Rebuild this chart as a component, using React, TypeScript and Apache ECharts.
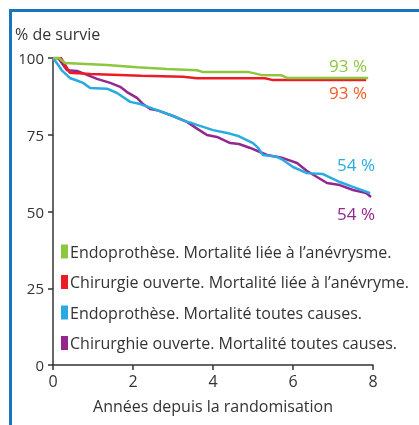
import React, { useEffect, useRef } from "react";
import * as echarts from "echarts";

const seriesNames = [
  "Endoprothèse. Mortalité liée à l’anévrysme.",
  "Chirurgie ouverte. Mortalité liée à l’anévryme.",
  "Endoprothèse. Mortalité toutes causes.",
  "Chirurghie ouverte. Mortalité toutes causes.",
];
const seriesColors = ["#8dc63f", "#ed1c24", "#29abe2", "#92278f"];
const labelColors = ["#8dc63f", "#f15a24", "#29abe2", "#92278f"];
const endLabels = ["93 %", "93 %", "54 %", "54 %"];

const endoAneurysm: [number, number][] = [
  [0, 100], [0.15, 100], [0.3, 98.4], [1.35, 97.7], [2.1, 97], [2.85, 96.4],
  [3.6, 96], [3.75, 95.4], [4.9, 95.4], [5.2, 94.5], [5.7, 94.4], [5.85, 93.5], [7.88, 93.5],
];
const openAneurysm: [number, number][] = [
  [0, 100], [0.2, 100], [0.42, 95.2], [0.93, 94.8], [2.2, 94.2], [3.25, 93.9],
  [3.6, 93.4], [5.3, 93.4], [5.5, 92.8], [7.83, 92.8],
];
const endoAll: [number, number][] = [
  [0, 100], [0.13, 97.7], [0.22, 96], [0.42, 93.5], [0.63, 92.5], [0.75, 91.9],
  [0.93, 90.2], [1.35, 90], [1.6, 88.6], [1.75, 87.3], [1.93, 85.7], [2.18, 85],
  [2.6, 83], [3.0, 81.1], [3.35, 79.2], [3.47, 78.8], [3.6, 78.2], [4.0, 76.5],
  [4.35, 75.6], [4.65, 74.5], [5.0, 72.3], [5.13, 70.7], [5.25, 68.4], [5.6, 67.8],
  [5.75, 66.8], [6.0, 64.5], [6.35, 62.5], [6.75, 62.2], [7.17, 59.6], [7.5, 58],
  [7.93, 56],
];
const openAll: [number, number][] = [
  [0, 100], [0.13, 100], [0.35, 96], [0.6, 95.8], [0.85, 94.5], [1.1, 93.2],
  [1.43, 91.9], [1.68, 90.6], [1.85, 88.9], [2.1, 87], [2.25, 85], [2.43, 83.4],
  [2.6, 83], [3.0, 81.1], [3.35, 79.2], [3.6, 77], [3.85, 74.9], [4.1, 74.3],
  [4.43, 72.3], [4.65, 72], [4.93, 70.7], [5.35, 68.4], [5.75, 67.4], [6.1, 65.8],
  [6.35, 63.2], [6.85, 59.3], [7.17, 58.6], [7.5, 57], [7.83, 56], [7.95, 54.7],
];
const seriesData = [endoAneurysm, openAneurysm, endoAll, openAll];

const yTicks = [0, 25, 50, 75, 100];
const xTicks = [0, 2, 4, 6, 8];

const FONT = "'Open Sans', sans-serif";
const TEXT = "#333333";

export default function App() {
  const ref = useRef<HTMLDivElement>(null);
  useEffect(() => {
    if (!ref.current) return;
    const chart = echarts.init(ref.current, undefined, { renderer: "svg" });
    const labelPos = [
      [348, 65],
      [348, 92],
      [356, 164],
      [356, 213],
    ];
    chart.setOption({
      animation: false,
      textStyle: { fontFamily: FONT },
      grid: { left: 53, top: 58, right: 46, bottom: 60 },
      xAxis: {
        type: "value",
        min: xTicks[0],
        max: xTicks[xTicks.length - 1],
        interval: 2,
        splitLine: { show: false },
        axisLine: { lineStyle: { color: "#333", width: 1.5 } },
        axisTick: { show: true, length: 5, lineStyle: { color: "#333", width: 1.5 } },
        axisLabel: { color: TEXT, fontSize: 16, margin: 8, fontFamily: FONT },
        name: "Années depuis la randomisation",
        nameLocation: "middle",
        nameGap: 33,
        nameTextStyle: { color: TEXT, fontSize: 16, fontFamily: FONT },
      },
      yAxis: {
        type: "value",
        min: yTicks[0],
        max: yTicks[yTicks.length - 1],
        interval: 25,
        splitLine: { show: false },
        axisLine: { show: true, lineStyle: { color: "#333", width: 1.5 } },
        axisTick: { show: true, length: 5, lineStyle: { color: "#333", width: 1.5 } },
        axisLabel: { color: TEXT, fontSize: 15, margin: 9, fontFamily: FONT },
        name: "% de survie",
        nameLocation: "end",
        nameGap: 16,
        nameTextStyle: { color: TEXT, fontSize: 16, fontFamily: FONT, align: "left", padding: [0, 0, 0, -38] },
      },
      legend: {
        orient: "vertical",
        left: 56,
        top: 238,
        itemWidth: 7,
        itemHeight: 14,
        itemGap: 13.5,
        icon: "rect",
        selectedMode: false,
        textStyle: { color: TEXT, fontSize: 16, fontFamily: FONT, lineHeight: 17, padding: [0, 0, 0, -3] },
        data: seriesNames.map((n, i) => ({ name: n, itemStyle: { color: seriesColors[i] } })),
      },
      graphic: [
        { type: "rect", shape: { x: 9, y: 9, width: 410, height: 3 }, style: { fill: "#1b75bc" } },
        { type: "rect", shape: { x: 9, y: 9, width: 3, height: 416 }, style: { fill: "#1b75bc" } },
        ...endLabels.map((t, i) => ({
          type: "text",
          x: labelPos[i][0],
          y: labelPos[i][1],
          style: {
            text: t,
            fill: labelColors[i],
            font: `17px ${FONT}`,
            textAlign: "center",
            textVerticalAlign: "middle",
          },
        })),
      ],
      series: seriesData.map((d, i) => ({
        name: seriesNames[i],
        type: "line",
        data: d,
        symbol: "none",
        lineStyle: { color: seriesColors[i], width: 2.5 },
        itemStyle: { color: seriesColors[i] },
        z: 4 - i,
      })),
    });
    return () => chart.dispose();
  }, []);
  return <div ref={ref} style={{ position: "fixed", left: 0, top: 0, width: 419, height: 425 }} />;
}
